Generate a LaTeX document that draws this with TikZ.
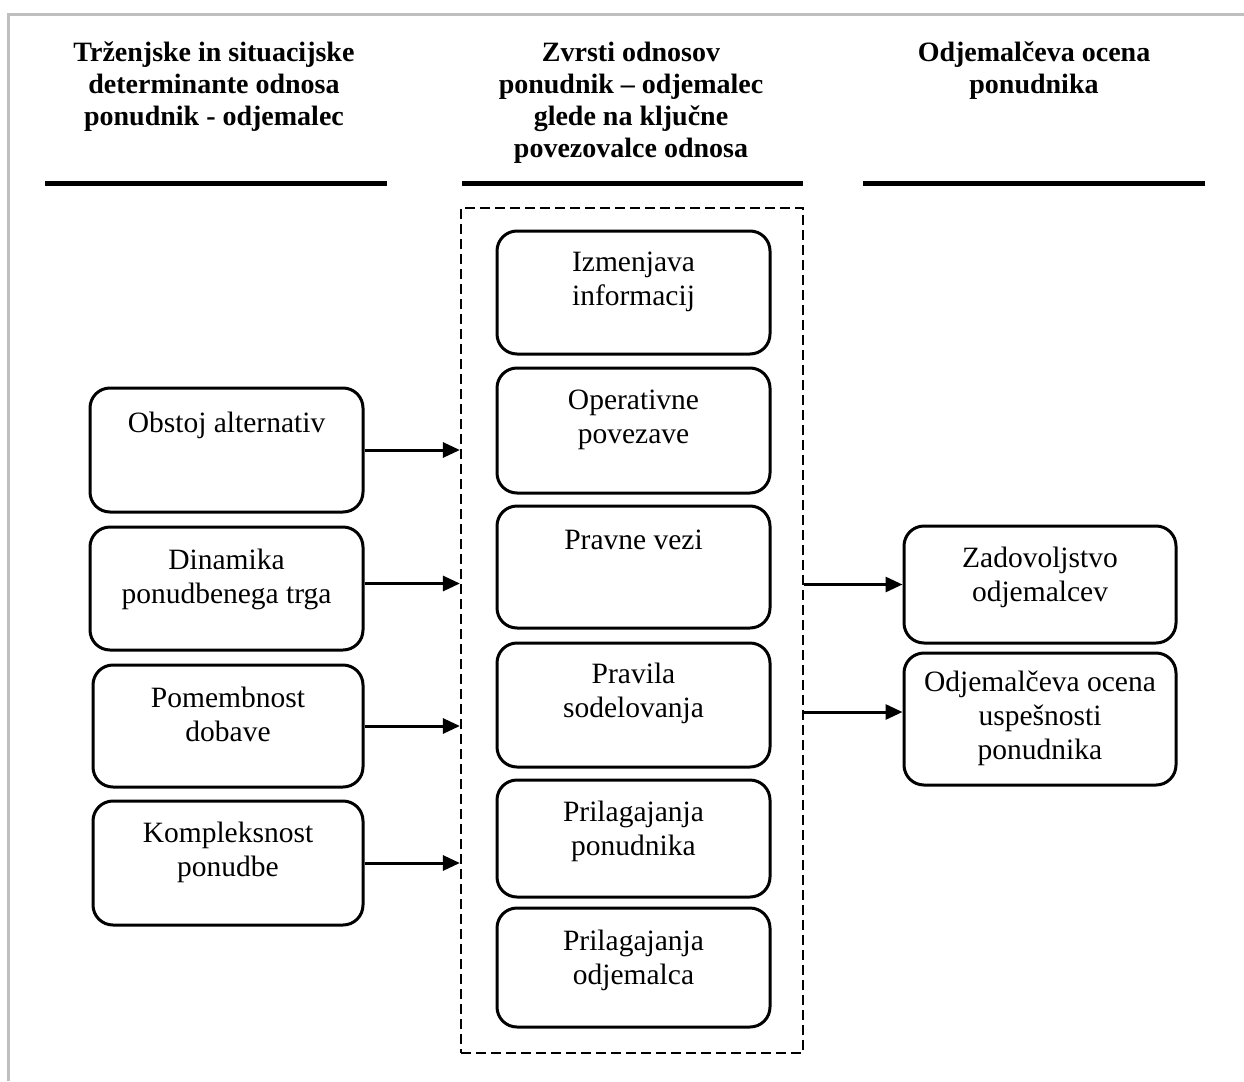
\documentclass[tikz,border=0pt]{standalone}
\usepackage{fontspec}
\setmainfont{Liberation Serif}
\usetikzlibrary{arrows.meta}

\tikzset{
  box/.style={draw, line width=3pt, rounded corners=20pt, inner sep=0pt},
  txt/.style={inner sep=0pt, align=center, font=\fontsize{29.5}{34}\selectfont},
  head/.style={inner sep=0pt, align=center, font=\fontsize{28}{32}\selectfont\bfseries},
  rule/.style={line width=4.5pt},
  frame/.style={draw, line width=2.2pt, dash pattern=on 10pt off 5pt, inner sep=0pt},
  arr/.style={line width=3pt, -{Triangle[length=17pt,width=15pt]}},
}

\begin{document}
\begin{tikzpicture}[x=1pt, y=-1pt]
  \useasboundingbox (0,0) rectangle (1244,1081);
  \fill[white] (0,0) rectangle (1244,1081);

  % light outer border (top and left)
  \draw[line width=2.5pt, black!25] (8.5,1081) -- (8.5,14.5) -- (1244,14.5);

  % column headings and their rules
  \node[head] (h1) at (214,87) {Trženjske in situacijske\\determinante odnosa\\ponudnik - odjemalec};
  \node[head] (h2) at (631,103) {Zvrsti odnosov\\ponudnik – odjemalec\\glede na ključne\\povezovalce odnosa};
  \node[head] (h3) at (1034,71) {Odjemalčeva ocena\\ponudnika};
  \coordinate (r1a) at (45,183.5);  \coordinate (r1b) at (387,183.5);
  \coordinate (r2a) at (462,183.5); \coordinate (r2b) at (803,183.5);
  \coordinate (r3a) at (863,183.5); \coordinate (r3b) at (1205,183.5);
  \draw[rule] (r1a) -- (r1b);
  \draw[rule] (r2a) -- (r2b);
  \draw[rule] (r3a) -- (r3b);

  % dashed group of relationship types
  \node[frame, minimum width=342pt, minimum height=845pt] (grp) at (632,630.5) {};

  % left column: determinants
  \node[box, minimum width=273pt, minimum height=124pt] (obs) at (226.5,450) {};
  \node[txt] (obsT) at (226.5,425) {Obstoj alternativ};
  \node[box, minimum width=273pt, minimum height=123pt] (din) at (226.5,588.5) {};
  \node[txt] (dinT) at (226.5,579.5) {Dinamika\\ponudbenega trga};
  \node[box, minimum width=270pt, minimum height=122pt] (pom) at (228,726) {};
  \node[txt] (pomT) at (228,714.5) {Pomembnost\\dobave};
  \node[box, minimum width=270pt, minimum height=124pt] (kom) at (228,863) {};
  \node[txt] (komT) at (228,852.5) {Kompleksnost\\ponudbe};

  % middle column: relationship connectors
  \node[box, minimum width=273pt, minimum height=123pt] (izm) at (633.5,292.5) {};
  \node[txt] (izmT) at (633.5,281.5) {Izmenjava\\informacij};
  \node[box, minimum width=273pt, minimum height=125pt] (ope) at (633.5,430.5) {};
  \node[txt] (opeT) at (633.5,420) {Operativne\\povezave};
  \node[box, minimum width=273pt, minimum height=122pt] (pra) at (633.5,567) {};
  \node[txt] (praT) at (633.5,540) {Pravne vezi};
  \node[box, minimum width=273pt, minimum height=124pt] (pvl) at (633.5,705) {};
  \node[txt] (pvlT) at (633.5,693.5) {Pravila\\sodelovanja};
  \node[box, minimum width=273pt, minimum height=117pt] (ppo) at (633.5,838.5) {};
  \node[txt] (ppoT) at (633.5,831.5) {Prilagajanja\\ponudnika};
  \node[box, minimum width=273pt, minimum height=119pt] (pod) at (633.5,967.5) {};
  \node[txt] (podT) at (633.5,960) {Prilagajanja\\odjemalca};

  % right column: customer evaluation
  \node[box, minimum width=272pt, minimum height=117pt] (zad) at (1040,584.5) {};
  \node[txt] (zadT) at (1040,577.5) {Zadovoljstvo\\odjemalcev};
  \node[box, minimum width=272pt, minimum height=132pt] (ocn) at (1040,719) {};
  \node[txt] (ocnT) at (1040,718.5) {Odjemalčeva ocena\\uspešnosti\\ponudnika};

  % connectors
  \draw[arr] (obs.east) -- (obs.east -| grp.west);
  \draw[arr] ([yshift=5pt]din.east) -- ([yshift=5pt]din.east -| grp.west);
  \draw[arr] (pom.east) -- (pom.east -| grp.west);
  \draw[arr] (kom.east) -- (kom.east -| grp.west);
  \draw[arr] (zad.west -| grp.east) -- (zad.west);
  \draw[arr] ([yshift=7pt]ocn.west -| grp.east) -- ([yshift=7pt]ocn.west);
\end{tikzpicture}
\end{document}
